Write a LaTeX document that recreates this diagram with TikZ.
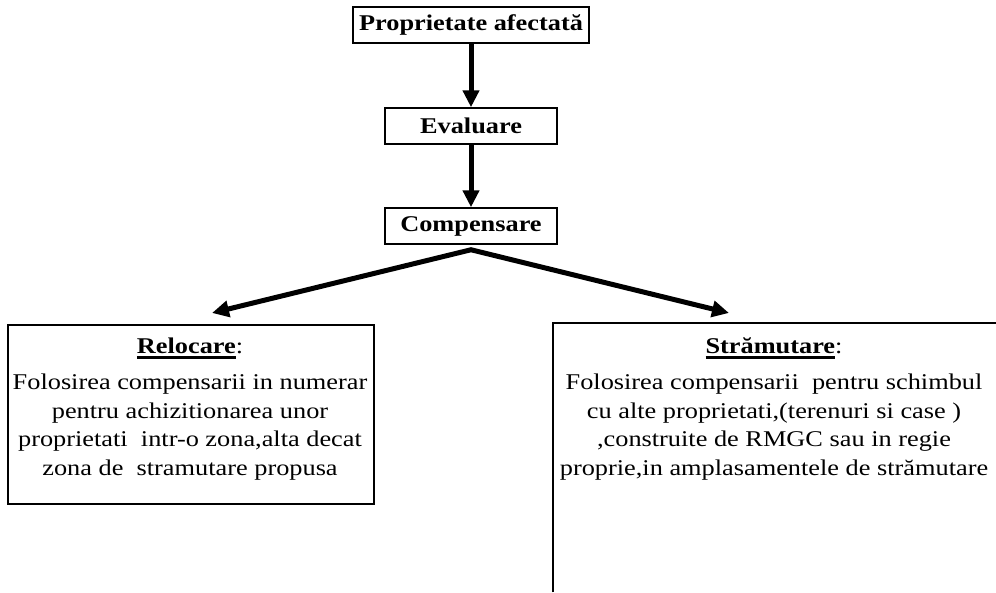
\documentclass[tikz,border=0pt]{standalone}
\usepackage{fontspec}
\setmainfont[FakeStretch=1.17]{Liberation Serif}
\usetikzlibrary{arrows.meta}
\newcommand\ulbox[1]{\setbox0\hbox{#1}\rlap{\rule[-6pt]{\wd0}{3.2pt}}\box0}
\tikzset{
  boxnode/.style={draw, line width=1.5pt, minimum width=#1, minimum height=36pt,
    inner sep=0pt, font=\fontsize{22.5}{28}\selectfont\bfseries},
  arr/.style={line width=5pt, -{Triangle[length=17pt,width=16pt]}},
  twoarr/.style={line width=5pt, line join=miter,
    {Triangle[length=17pt,width=16pt]}-{Triangle[length=17pt,width=16pt]}},
  txt/.style={font=\fontsize{22.5}{28}\selectfont, anchor=base, inner sep=0pt},
  frame/.style={line width=1.5pt},
}
\begin{document}
\begin{tikzpicture}[x=1pt,y=-1pt]
\useasboundingbox (0,0) rectangle (996,592);
\node[boxnode=236pt] (prop) at (471,25) {Proprietate afectată};
\node[boxnode=172pt] (eval) at (471,126) {Evaluare};
\node[boxnode=172pt] (comp) at (471,226) {Compensare};
\draw[arr] (prop.south) -- (eval.north);
\draw[arr] (eval.south) -- (comp.north);
% lower boxes
\node[draw, frame, minimum width=366pt, minimum height=179pt, anchor=north west, inner sep=0pt] (relbox) at (7,324) {};
\node[minimum width=443pt, minimum height=269pt, anchor=north west, inner sep=0pt] (strbox) at (553,323) {};
\draw[frame] (strbox.south west) -- (strbox.north west) -- (strbox.north east);
% split arrows
\path (comp.south) ++(0,5) coordinate (split);
\coordinate (tipL) at (212,313);
\coordinate (tipR) at (729,313);
\draw[twoarr] (tipL) -- (split) -- (tipR);
% left text
\node[txt] (lh) at (190,353) {\ulbox{\bfseries Relocare}:};
\node[txt] (l1) at (190,389) {Folosirea compensarii in numerar};
\node[txt] (l2) at (190,418) {pentru achizitionarea unor};
\node[txt] (l3) at (190,446) {proprietati\ \ intr-o zona,alta decat};
\node[txt] (l4) at (190,475) {zona de\ \ stramutare propusa};
% right text
\node[txt] (rh) at (774,353) {\ulbox{\bfseries Strămutare}:};
\node[txt] (r1) at (774,389) {Folosirea compensarii\ \ pentru schimbul};
\node[txt] (r2) at (774,418) {cu alte proprietati,(terenuri si case )};
\node[txt] (r3) at (774,446) {,construite de RMGC sau in regie};
\node[txt] (r4) at (774,475) {proprie,in amplasamentele de strămutare};
\end{tikzpicture}
\end{document}
